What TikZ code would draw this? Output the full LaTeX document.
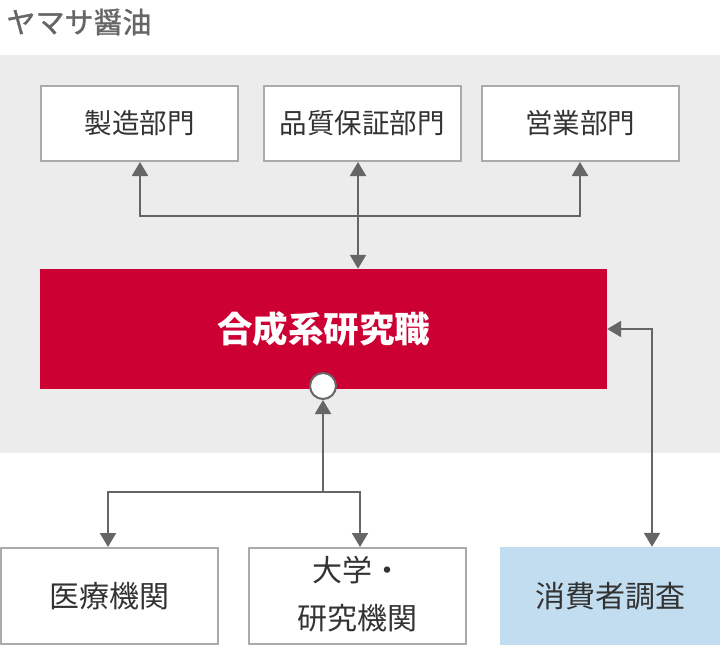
\documentclass[tikz,border=0pt]{standalone}
\usepackage{fontspec}
\setmainfont{Noto Sans CJK JP}
\newfontfamily\titlefont[FakeBold=1.2]{Noto Sans CJK JP}
\usetikzlibrary{arrows.meta}
\definecolor{bggray}{HTML}{ECECEC}
\definecolor{boxline}{HTML}{AAAAAA}
\definecolor{linegray}{HTML}{666666}
\definecolor{txtgray}{HTML}{333333}
\definecolor{redbox}{HTML}{CC0033}
\definecolor{bluebox}{HTML}{C2DDF0}
\tikzset{
  topbox/.style={draw=boxline, line width=2pt, fill=white, minimum width=197pt, minimum height=75pt, inner sep=0pt, text=txtgray, font=\fontsize{27.5}{30}\selectfont},
  botbox/.style={draw=boxline, line width=2pt, fill=white, minimum width=217pt, minimum height=96pt, inner sep=0pt, text=txtgray, font=\fontsize{30}{48}\selectfont, align=center},
  conn/.style={draw=linegray, line width=2.2pt},
  tip/.style={-{Triangle[length=14pt,width=16pt]}},
  tips/.style={{Triangle[length=14pt,width=16pt]}-{Triangle[length=14pt,width=16pt]}},
}
\begin{document}
\begin{tikzpicture}[x=1pt,y=-1pt]
\useasboundingbox (0,0) rectangle (720,650);
\fill[bggray] (0,55) rectangle (720,453);
\node[anchor=west, text=linegray, font=\fontsize{29}{32}\selectfont\titlefont] (title) at (3,22) {ヤマサ醤油};
\node[topbox] (seizo) at (139.5,123.5) {製造部門};
\node[topbox] (hinshitsu) at (362,123.5) {品質保証部門};
\node[topbox] (eigyo) at (580,123.5) {営業部門};
\node[fill=redbox, minimum width=567pt, minimum height=120pt, inner sep=0pt, text=white, font=\fontsize{35.5}{38}\selectfont\bfseries] (red) at (323.5,329) {合成系研究職};
\node[circle, draw=linegray, line width=2pt, fill=white, minimum size=26pt, inner sep=0pt] (circ) at (323,386) {};
\node[botbox] (iryo) at (109.5,596) {医療機関};
\node[botbox] (daigaku) at (357.5,596) {\raisebox{3pt}{\begin{tabular}{@{}c@{}}大学・\\研究機関\end{tabular}}};
\node[fill=bluebox, minimum width=220pt, minimum height=98pt, inner sep=0pt, text=txtgray, font=\fontsize{30}{36}\selectfont] (shohi) at (610,596) {消費者調査};
\coordinate (hjoin) at (358,216);
\coordinate (bjoin) at (323,492);
% top connectors
\draw[conn, tip] (hjoin) -| (seizo.south -| 140,0);
\draw[conn] (140,216) -- (hjoin);
\draw[conn, tip] (hjoin) -| (eigyo.south -| 580,0);
\draw[conn, tips] (hinshitsu.south -| 358,0) -- (red.north -| 358,0);
% bottom connectors
\draw[conn, tip] (bjoin) -- (circ.south);
\draw[conn, tip] (bjoin) -| (iryo.north -| 108,0);
\draw[conn, tip] (bjoin) -| (daigaku.north -| 360,0);
% right connector
\draw[conn, tips] (red.east |- 0,329) -| (shohi.north -| 652,0);
\end{tikzpicture}
\end{document}
